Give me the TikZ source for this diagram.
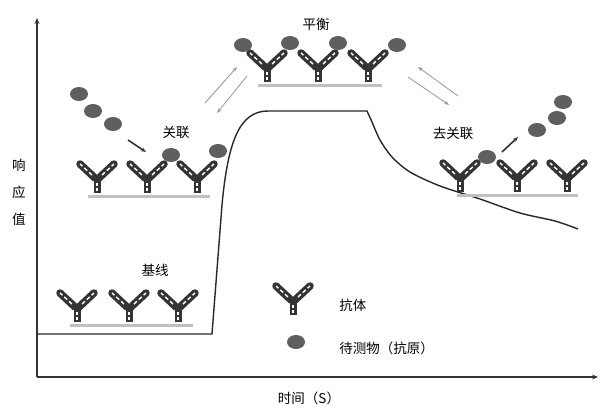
\documentclass[tikz,border=0pt]{standalone}
\usepackage{fontspec}
\setmainfont{Noto Sans CJK SC}
\usepackage{tikz}
\usetikzlibrary{arrows.meta,positioning,calc,shapes.geometric}

\definecolor{abgray}{RGB}{52,52,52}
\definecolor{aggray}{RGB}{95,95,95}
\definecolor{surfgray}{RGB}{192,192,192}
\definecolor{arrgray}{RGB}{150,150,150}
\definecolor{curvegray}{RGB}{40,40,40}

\tikzset{
	antibody/.pic={
		\draw[abgray,line width=7pt] (0,0) -- (0,-17);
		\draw[white,line width=1.3pt,dash pattern=on 3pt off 2.5pt] (0,-2) -- (0,-14);
		\foreach \s in {-1,1}{
			\draw[abgray,line width=7.5pt,line cap=round] (\s*2,-15) -- (\s*17,-29);
			\draw[white,line width=1.4pt,dash pattern=on 4pt off 2.5pt] (\s*5,-18) -- (\s*17,-29);
		}
	},
	antigen/.style={ellipse,fill=aggray,minimum width=18pt,minimum height=14pt,inner sep=0pt},
	surface/.style={surfgray,line width=3pt},
	lbl/.style={font=\fontsize{13.5}{16}\selectfont,inner sep=0pt},
	twoway/.style={arrgray,line width=0.8pt,-{Stealth[length=5pt,width=3.5pt]}},
	push/.style={abgray,line width=1.6pt,-{Stealth[length=5pt,width=4pt]}}
}

\begin{document}
\begin{tikzpicture}[x=1pt,y=-1pt,thick]
	\useasboundingbox (0,0) rectangle (610,413);

	% axes
	\coordinate (origin) at (37,377);
	\coordinate (ytop) at (37,18);
	\coordinate (xend) at (598,377);
	\draw[abgray,line width=1.8pt,-{Stealth[length=6pt,width=5pt]}] (origin) -- (ytop);
	\draw[abgray,line width=1.8pt,-{Stealth[length=6pt,width=5pt]}] (origin) -- (xend);
	\node[lbl,align=center,font=\fontsize{13.5}{27}\selectfont] (ylab) at (19,192) {响\\应\\值};
	\node[lbl] (xlab) at (309,398) {时间（S）};

	% response curve
	\draw[curvegray,line width=1.4pt] (37,334) -- (212,334) -- (222,205)
		.. controls (228,140) and (240,111) .. (268,111) -- (367,111)
		-- plot[smooth] coordinates {(367,111) (372,122) (380,140) (392,157) (410,172) (440,186) (480,199) (520,213) (555,221) (578,229)};

	% baseline
	\node[lbl] (base) at (155,270) {基线};
	\foreach \x in {77,129,178} \pic at (\x,322) {antibody};
	\draw[surface] (70,325) -- (193,325);

	% association
	\node[lbl] (assoc) at (176,132) {关联};
	\foreach \x in {97,147,197} \pic at (\x,193) {antibody};
	\draw[surface] (88,196) -- (210,196);
	\foreach \p [count=\i] in {(79,94),(93,111),(113,124)} \node[antigen] (free\i) at \p {};
	\node[antigen] (bound1) at (171,155) {};
	\node[antigen] (bound2) at (218,151) {};
	\coordinate (in1) at (128,140);
	\coordinate (in2) at (146,152);
	\draw[push] (in1) -- (in2);

	% equilibrium
	\node[lbl] (eq) at (316,24) {平衡};
	\foreach \x in {267,318,368} \pic at (\x,82) {antibody};
	\draw[surface] (258,85) -- (382,85);
	\foreach \p [count=\i] in {(243,45),(290,43),(338,43),(397,45)} \node[antigen] (eqag\i) at \p {};

	% two-way arrows
	\coordinate (la) at (205,103);
	\coordinate (lb) at (237,67);
	\coordinate (lc) at (247,76);
	\coordinate (ld) at (217,113);
	\draw[twoway] (la) -- (lb);
	\draw[twoway] (lc) -- (ld);
	\coordinate (ra) at (458,96);
	\coordinate (rb) at (418,67);
	\coordinate (rc) at (408,77);
	\coordinate (rd) at (449,105);
	\draw[twoway] (ra) -- (rb);
	\draw[twoway] (rc) -- (rd);

	% dissociation
	\node[lbl] (dissoc) at (453,133) {去关联};
	\foreach \x in {460,517,567} \pic at (\x,192) {antibody};
	\draw[surface] (457,195) -- (578,195);
	\node[antigen] (left1) at (487,157) {};
	\foreach \p [count=\i] in {(537,130),(557,118),(563,102)} \node[antigen] (gone\i) at \p {};
	\coordinate (out1) at (502,152);
	\coordinate (out2) at (518,137);
	\draw[push] (out1) -- (out2);

	% legend
	\pic at (293,315) {antibody};
	\node[lbl,anchor=west] (legab) at (339,305) {抗体};
	\node[antigen] (legdot) at (296,342) {};
	\node[lbl,anchor=west] (legag) at (339,348) {待测物（抗原）};
\end{tikzpicture}
\end{document}
